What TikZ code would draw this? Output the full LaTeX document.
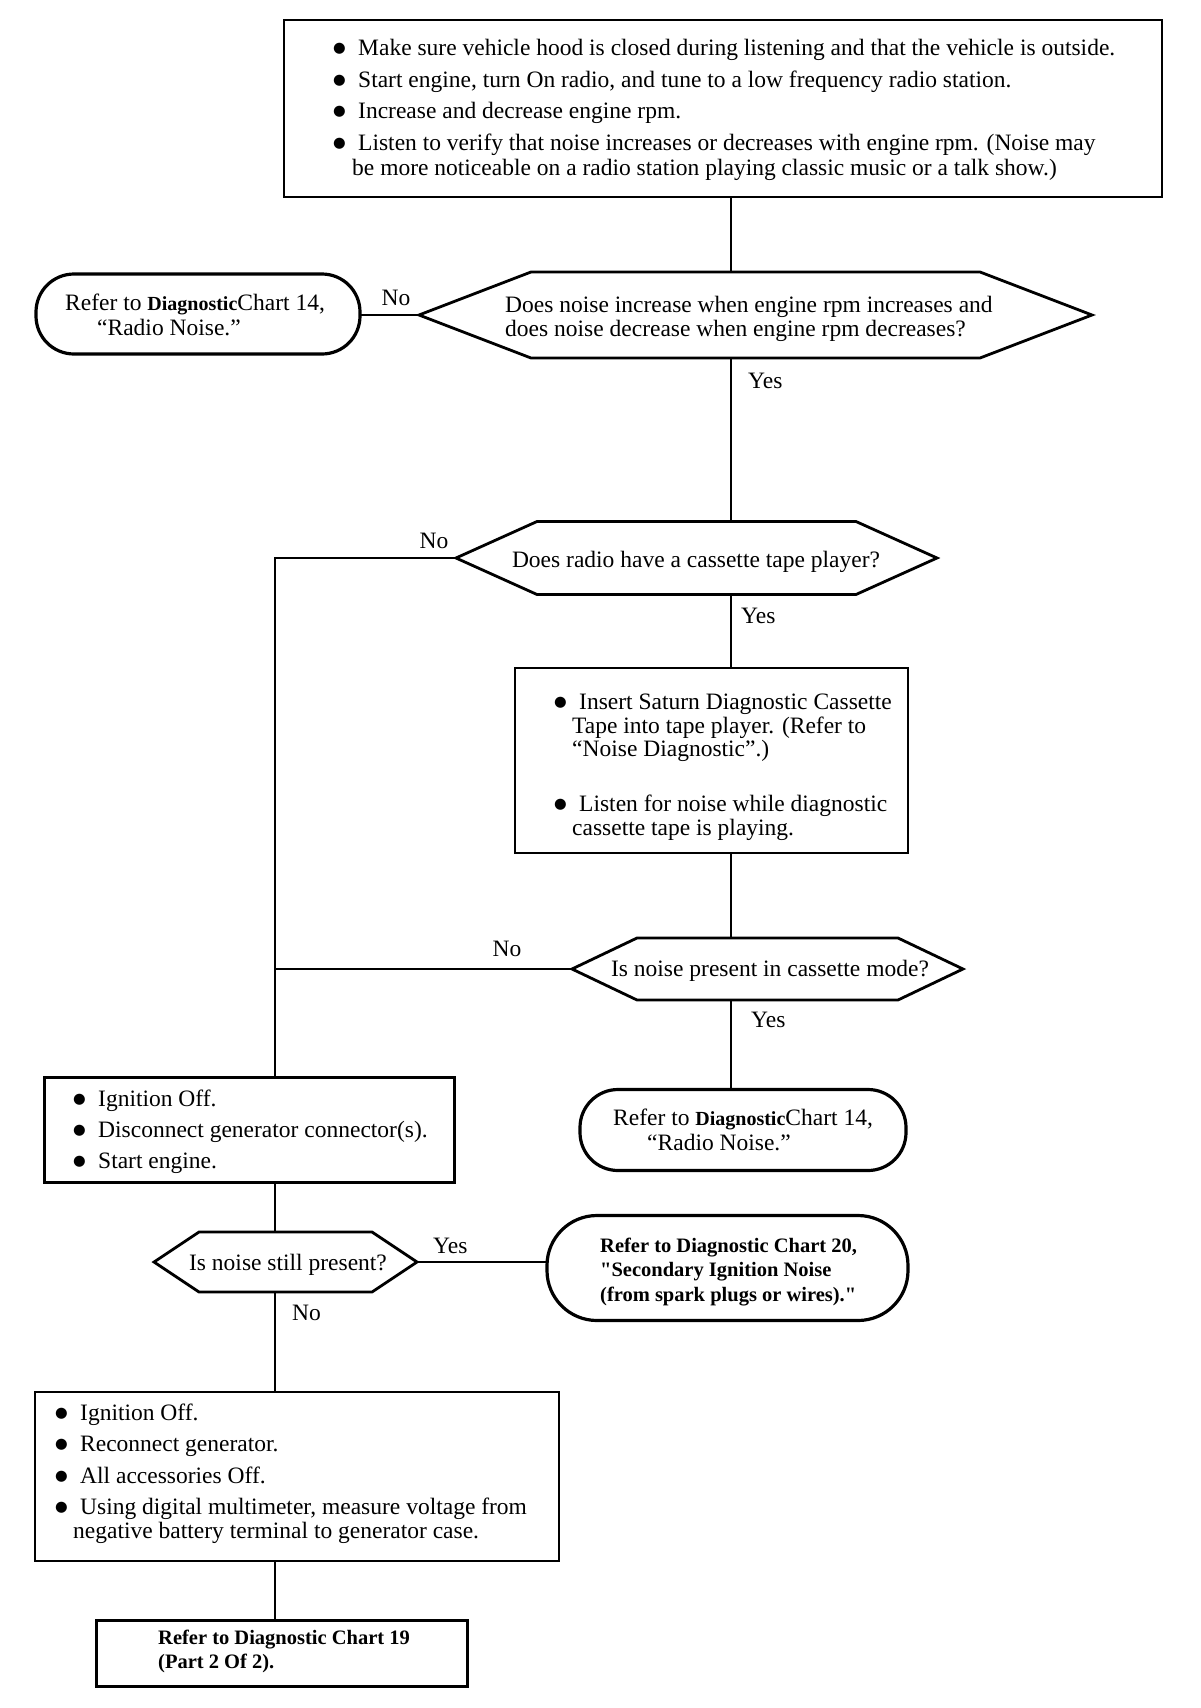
\documentclass[tikz,border=0pt]{standalone}
\usepackage{fontspec}
\setmainfont{Liberation Serif}
\newfontfamily\dejavu{DejaVu Sans}
\newcommand{\bul}{\makebox[25pt][l]{\raisebox{3pt}{\dejavu\fontsize{14.5}{14.5}\selectfont ●}}}
\newcommand{\diag}{\bfseries\fontsize{20}{22}\selectfont}
\newcommand{\sq}{\XeTeXglyph\XeTeXcharglyph"22\relax}
\newcommand{\hexnode}[6]{%
  \node[hexbox, minimum width=#4pt, minimum height=#5pt] (#1) at (#2,#3) {};
  \draw[hexline] (#1.west) -- ([xshift=#6pt]#1.north west) -- ([xshift=-#6pt]#1.north east)
     -- (#1.east) -- ([xshift=-#6pt]#1.south east) -- ([xshift=#6pt]#1.south west) -- cycle;}
\tikzset{
  hexbox/.style={draw=none, inner sep=0pt, outer sep=0pt},
  hexline/.style={line width=2.8pt, line join=miter},
  boxn/.style={draw, line width=2.2pt, inner sep=0pt, outer sep=0pt},
  termn/.style={draw, line width=3.2pt, inner sep=0pt, outer sep=0pt},
  conn/.style={line width=1.4pt},
  txt/.style={inner sep=0pt, anchor=west, align=left, font=\fontsize{23.5}{25}\selectfont},
  btxt/.style={inner sep=0pt, anchor=west, align=left, font=\bfseries\fontsize{20.5}{24.5}\selectfont},
  lbl/.style={inner sep=0pt, font=\fontsize{23.5}{25}\selectfont},
}
\begin{document}
\begin{tikzpicture}[x=1pt,y=-1pt]
\useasboundingbox (0,0) rectangle (1200,1708);
\fill[white] (0,0) rectangle (1200,1708);

% vertical trunk x positions
\coordinate (xa) at (731,0);
\coordinate (xb) at (275,0);

% top box
\node[boxn, minimum width=878pt, minimum height=177pt] (top) at (723,108.5) {};
\node[txt] (t0) at (333,110) {\bul Make sure vehicle hood is closed during listening and that the vehicle is outside.\\[6.7pt]
\bul Start engine, turn On radio, and tune to a low frequency radio station.\\[6.7pt]
\bul Increase and decrease engine rpm.\\[6.7pt]
\bul Listen to verify that noise increases or decreases with engine rpm. (Noise may\\
\hspace*{19pt}be more noticeable on a radio station playing classic music or a talk show.)};

% decision 1
\hexnode{d1}{755.5}{315}{673}{86}{112}
\node[txt, font=\fontsize{23.5}{24}\selectfont] (t1) at (505,319) {Does noise increase when engine rpm increases and\\does noise decrease when engine rpm decreases?};

% terminal 1
\node[termn, rounded corners=38pt, minimum width=324pt, minimum height=80pt] (term1) at (198,314) {};
\node[txt] (tt1) at (65,315) {Refer to {\diag Diagnostic}Chart 14,\\\hspace*{32pt}“Radio Noise.”};

\node[lbl] (no1) at (396,298) {No};
\node[lbl, anchor=west] (yes1) at (748,381) {Yes};

% decision 2
\hexnode{d2}{696.5}{558}{481}{73}{81}
\node[lbl] (t2) at (696,562) {Does radio have a cassette tape player?};
\node[lbl] (no2) at (434,541) {No};
\node[lbl, anchor=west] (yes2) at (741,616) {Yes};

% box 2
\node[boxn, minimum width=393pt, minimum height=185pt] (box2) at (711.5,760.5) {};
\node[txt, font=\fontsize{23.5}{23.5}\selectfont] (tb2) at (554,767) {\bul Insert Saturn Diagnostic Cassette\\
\hspace*{18pt}Tape into tape player. (Refer to\\
\hspace*{18pt}“Noise Diagnostic”.)\\[31.5pt]
\bul Listen for noise while diagnostic\\
\hspace*{18pt}cassette tape is playing.};

% decision 3
\hexnode{d3}{767.5}{969}{391}{62}{65}
\node[lbl] (t3) at (770,971) {Is noise present in cassette mode?};
\node[lbl] (no3) at (507,949) {No};
\node[lbl, anchor=west] (yes3) at (751,1020) {Yes};

% terminal 2
\node[termn, rounded corners=38pt, minimum width=326pt, minimum height=81pt] (term2) at (743,1130) {};
\node[txt] (tt2) at (613,1130) {Refer to {\diag Diagnostic}Chart 14,\\\hspace*{34pt}“Radio Noise.”};

% box 3
\node[boxn, minimum width=410pt, minimum height=105pt] (box3) at (249.5,1130) {};
\node[txt] (tb3) at (73,1132) {\bul Ignition Off.\\[6pt]
\bul Disconnect generator connector(s).\\[6pt]
\bul Start engine.};

% decision 4
\hexnode{d4}{285.5}{1262}{263}{60}{45}
\node[lbl] (t4) at (288,1265) {Is noise still present?};
\node[lbl, anchor=west] (yes4) at (433,1246) {Yes};
\node[lbl, anchor=west] (no4) at (292,1313) {No};

% terminal 3
\node[termn, rounded corners=50pt, minimum width=361pt, minimum height=105pt] (term3) at (727.5,1268) {};
\node[btxt] (tt3) at (600,1272) {Refer to Diagnostic Chart 20,\\\sq Secondary Ignition Noise\\(from spark plugs or wires).\sq};

% box 4
\node[boxn, minimum width=524pt, minimum height=169pt] (box4) at (297,1476.5) {};
\node[txt, font=\fontsize{23.5}{24.5}\selectfont] (tb4) at (55,1474) {\bul Ignition Off.\\[6.7pt]
\bul Reconnect generator.\\[6.7pt]
\bul All accessories Off.\\[6.7pt]
\bul Using digital multimeter, measure voltage from\\
\hspace*{18pt}negative battery terminal to generator case.};

% box 5
\node[boxn, line width=3pt, minimum width=371pt, minimum height=66pt] (box5) at (281.5,1653) {};
\node[btxt, font=\bfseries\fontsize{20.5}{24}\selectfont] (tb5) at (158,1651) {Refer to Diagnostic Chart 19\\(Part 2 Of 2).};

% connectors
\draw[conn] (top.south -| xa) -- (d1.north -| xa);
\draw[conn] (d1.west -| term1.east) -- (d1.west);
\draw[conn] (d1.south -| xa) -- (d2.north -| xa);
\draw[conn] (d2.south -| xa) -- (box2.north -| xa);
\draw[conn] (box2.south -| xa) -- (d3.north -| xa);
\draw[conn] (d3.south -| xa) -- (term2.north -| xa);
\draw[conn] (d2.west) -- (d2.west -| xb) -- (box3.north -| xb);
\draw[conn] (d3.west) -- (d3.west -| xb);
\draw[conn] (box3.south -| xb) -- (d4.north -| xb);
\draw[conn] (d4.east) -- (d4.east -| term3.west);
\draw[conn] (d4.south -| xb) -- (box4.north -| xb);
\draw[conn] (box4.south -| xb) -- (box5.north -| xb);
\end{tikzpicture}
\end{document}
